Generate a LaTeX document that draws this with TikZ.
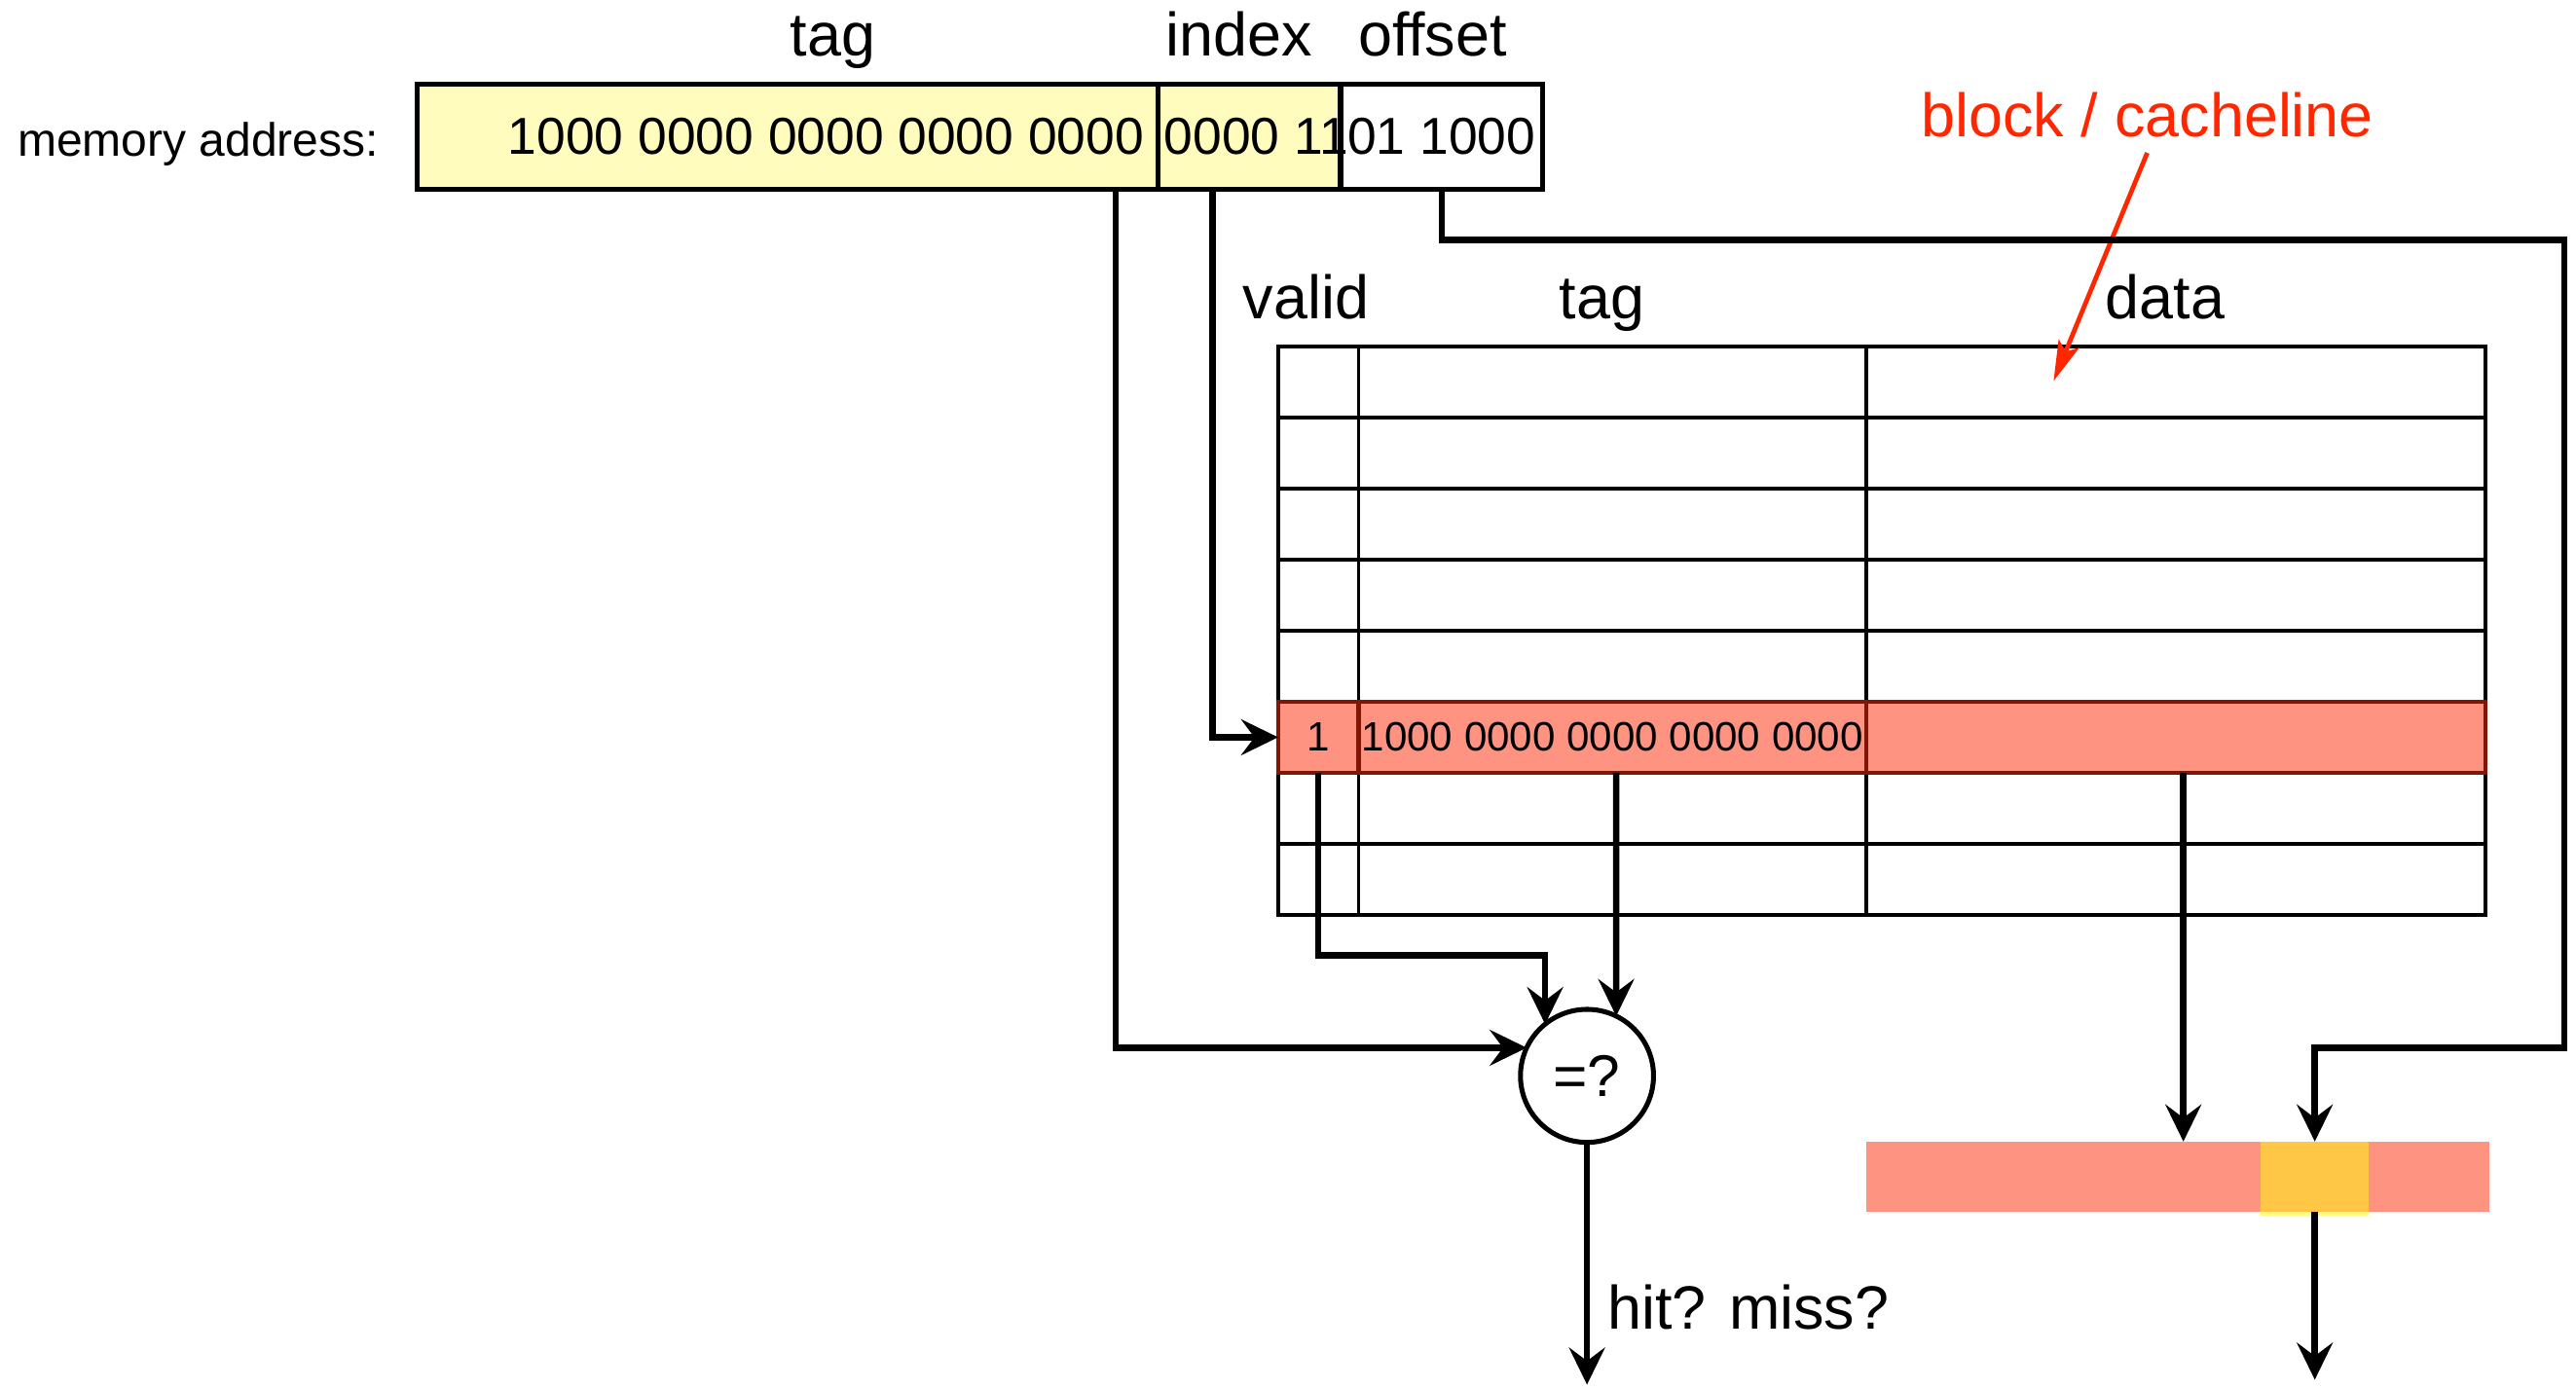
\documentclass[tikz,border=0pt]{standalone}
\usepackage{fontspec}
\setmainfont{Liberation Sans}
\usetikzlibrary{arrows.meta,calc}

\definecolor{addrfill}{RGB}{255,252,190}
\definecolor{linefill}{RGB}{255,147,129}
\definecolor{lineedge}{RGB}{128,22,6}
\definecolor{wordfill}{RGB}{255,199,69}
\definecolor{wordedge}{RGB}{255,250,130}
\definecolor{annot}{RGB}{255,38,0}

\tikzset{
  conn/.style={line width=1.1pt, -{Stealth[length=6.4pt,width=6.2pt,inset=2.3pt]}},
  redarrow/.style={draw=annot, line width=0.8pt, -{Stealth[length=7pt,width=3.8pt,inset=1.5pt]}},
  field/.style={draw, line width=0.85pt, inner sep=0, outer sep=0, minimum height=6.4mm},
  rowline/.style={line width=0.7pt},
  colline/.style={line width=0.55pt},
  cell/.style={draw=lineedge, fill=linefill, line width=0.7pt, inner sep=0, outer sep=0,
               minimum height=4.325mm, font=\fontsize{7.1}{9}\selectfont},
  lbl/.style={font=\fontsize{10.6}{12}\selectfont, inner sep=0, anchor=base},
  bits/.style={font=\fontsize{9}{11}\selectfont, inner sep=0},
}

\begin{document}
\begin{tikzpicture}[x=0.1mm, y=-0.1mm]
\useasboundingbox (0,0) rectangle (1568,845);

% ---- memory address split into tag / index / offset
\node[font=\fontsize{8.1}{10}\selectfont, inner sep=0, anchor=base west] (maddr) at (10,95) {memory address:};
\node[field, fill=addrfill, minimum width=45.1mm] (tagf) at (479.5,83) {};
\node[field, fill=addrfill, minimum width=11.1mm] (idxf) at (760.5,83) {};
\node[field, fill=white, minimum width=12.3mm, bits] (offf) at (877.5,83) {01 1000};
\node[bits, anchor=east] (tagbits) at ([xshift=-0.8mm]tagf.east) {1000 0000 0000 0000 0000};
\node[bits, anchor=west] (idxbits) at ([xshift=0.3mm]idxf.west) {0000 11};

\node[lbl] (ltag) at (507,34) {tag};
\node[lbl] (lidx) at (754,34) {index};
\node[lbl] (loff) at (872,34) {offset};

% ---- cache table
\node[lbl] (lvalid) at (795,194) {valid};
\node[lbl] (lttag) at (975,194) {tag};
\node[lbl] (ldata) at (1318,194) {data};

\draw[rowline] (778,211) rectangle (1513,557);
\foreach \k in {1,...,7}
  \draw[rowline] (778,{211+43.25*\k}) -- (1513,{211+43.25*\k});
\draw[colline] (827,211) -- (827,557);
\draw[colline] (1136,211) -- (1136,557);

% selected line
\node[cell, minimum width=4.9mm]  (vcell) at (802.5,448.875) {1};
\node[cell, minimum width=30.9mm] (tcell) at (981.5,448.875) {1000 0000 0000 0000 0000};
\node[cell, minimum width=37.7mm] (dcell) at (1324.5,448.875) {};

% ---- annotation
\node[lbl, text=annot] (blk) at (1307,83) {block / cacheline};
\coordinate (blktip) at (1250,232);
\draw[redarrow] ([yshift=-0.9mm]blk.south) -- (blktip);

% ---- comparator
\node[circle, draw, line width=0.85pt, minimum size=8.1mm, inner sep=0, outer sep=0,
      font=\fontsize{10.2}{12}\selectfont] (cmp) at (966,655) {=?};

% ---- data block with the addressed word
\fill[wordedge] (1376,718) rectangle (1442,740);
\node[fill=linefill, inner sep=0, outer sep=0, minimum width=37.9mm, minimum height=4.3mm] (bar) at (1325.5,716.5) {};
\node[fill=wordfill, inner sep=0, outer sep=0, minimum width=6.6mm, minimum height=4.3mm] (word) at (1409,716.5) {};

% ---- connectors
\draw[conn] ($(tagf.south west)!0.9424!(tagf.south east)$) |- (cmp.155);
\draw[conn] ($(idxf.south west)!0.297!(idxf.south east)$) |- (vcell.west);
\coordinate (rt) at (1561,146);
\draw[conn] (offf.south) |- (rt) -- (rt |- cmp.155) -| (word.north);
\draw[conn] (vcell.south) -- ++(0,111) -| (cmp.129);
\draw[conn] ([xshift=0.225mm]tcell.south) -- (cmp.64);
\draw[conn] ([xshift=0.45mm]dcell.south) -- ([xshift=0.45mm]dcell.south |- bar.north);

\coordinate (hmout) at (966,843);
\draw[conn] (cmp.south) -- (hmout);
\node[lbl, anchor=base west] (hm) at (978,809) {hit? miss?};

\coordinate (wout) at (1409,840);
\draw[conn] (word.south) -- (wout);
\end{tikzpicture}
\end{document}
